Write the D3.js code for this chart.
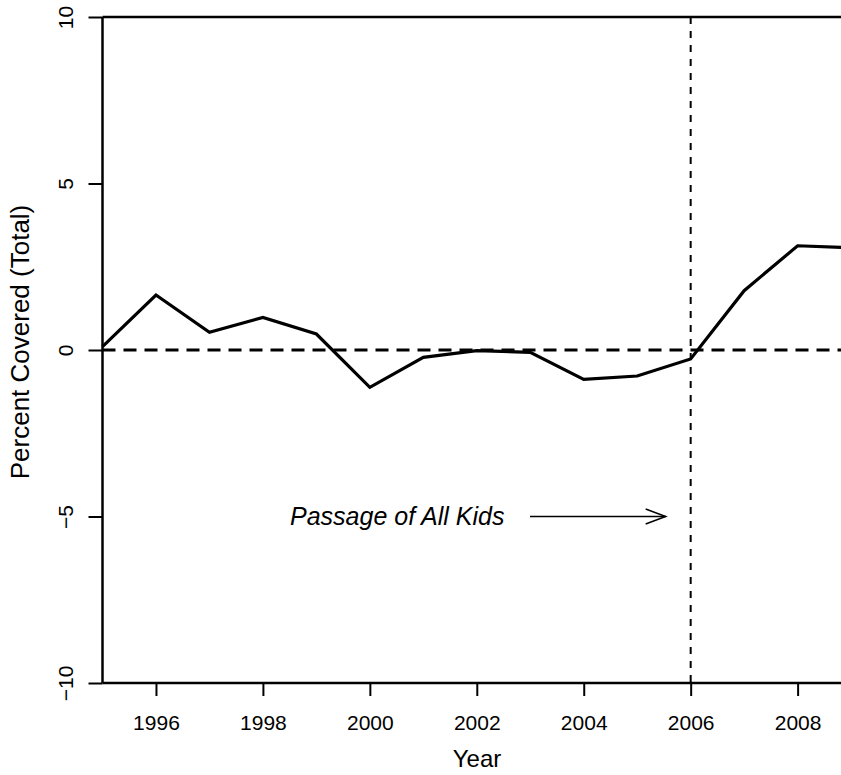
<!DOCTYPE html>
<html>
<head>
<meta charset="utf-8">
<script src="https://cdn.jsdelivr.net/npm/d3@7"></script>
<style>
  html, body { margin: 0; padding: 0; background: #fff; }
  svg { display: block; font-family: "Liberation Sans", Arial, sans-serif; }
</style>
</head>
<body>
<svg id="chart" width="841" height="775"></svg>
<script>
// Yearly change in percent covered (total)
const years = [1995, 1996, 1997, 1998, 1999, 2000, 2001, 2002, 2003, 2004, 2005, 2006, 2007, 2008, 2009];
const values = [0.1, 1.65, 0.53, 0.98, 0.48, -1.12, -0.22, -0.02, -0.07, -0.88, -0.78, -0.27, 1.78, 3.13, 3.07];
const xTicks = [1996, 1998, 2000, 2002, 2004, 2006, 2008];
const yTicks = [-10, -5, 0, 5, 10];
const policyYear = 2006;
const annotation = "Passage of All Kids";

const svg = d3.select("#chart");
const plotLeft = 102.5, plotTop = 17, plotBottom = 683;

const x = d3.scaleLinear().domain([1995, 2009]).range([plotLeft, plotLeft + 14 * 53.47]);
const y = d3.scaleLinear().domain([-10, 10]).range([plotBottom, plotTop]);

// frame: top and bottom rules plus the left axis line
svg.append("line").attr("x1", plotLeft).attr("x2", 841).attr("y1", plotTop).attr("y2", plotTop)
  .attr("stroke", "#000").attr("stroke-width", 2.5);
svg.append("line").attr("x1", plotLeft).attr("x2", 841).attr("y1", plotBottom).attr("y2", plotBottom)
  .attr("stroke", "#000").attr("stroke-width", 2.5);
svg.append("line").attr("x1", plotLeft).attr("x2", plotLeft).attr("y1", plotTop).attr("y2", plotBottom)
  .attr("stroke", "#000").attr("stroke-width", 2.5);

// y axis
const yAxis = d3.axisLeft(y).tickValues(yTicks).tickSize(14).tickPadding(0)
  .tickFormat(d => d < 0 ? "\u2212" + Math.abs(d) : d);
const gy = svg.append("g").attr("transform", `translate(${plotLeft},0)`).call(yAxis);
gy.select(".domain").remove();
gy.selectAll(".tick line").attr("stroke", "#000").attr("stroke-width", 2);
gy.selectAll(".tick text")
  .attr("x", 0).attr("y", 0).attr("dy", 0)
  .attr("text-anchor", "middle")
  .attr("transform", "translate(-30,0) rotate(-90)")
  .attr("font-size", 21).attr("fill", "#000")
  .style("font-family", "'Liberation Sans', Arial, sans-serif");

// x axis
const xAxis = d3.axisBottom(x).tickValues(xTicks).tickSize(13).tickPadding(0)
  .tickFormat(d3.format("d"));
const gx = svg.append("g").attr("transform", `translate(0,${plotBottom})`).call(xAxis);
gx.select(".domain").remove();
gx.selectAll(".tick line").attr("stroke", "#000").attr("stroke-width", 2);
gx.selectAll(".tick text")
  .attr("y", 47).attr("dy", 0)
  .attr("font-size", 21).attr("fill", "#000")
  .style("font-family", "'Liberation Sans', Arial, sans-serif");

// reference lines
svg.append("line").attr("x1", plotLeft).attr("x2", 841).attr("y1", y(0)).attr("y2", y(0))
  .attr("stroke", "#000").attr("stroke-width", 3).attr("stroke-dasharray", "13,8");
svg.append("line").attr("x1", x(policyYear)).attr("x2", x(policyYear)).attr("y1", plotTop).attr("y2", plotBottom)
  .attr("stroke", "#000").attr("stroke-width", 2).attr("stroke-dasharray", "7,7");

// series
const line = d3.line().x((d, i) => x(years[i])).y(d => y(d));
svg.append("path").datum(values).attr("d", line)
  .attr("fill", "none").attr("stroke", "#000").attr("stroke-width", 3.2)
  .attr("stroke-linejoin", "miter");

// annotation with arrow pointing at the policy year
const annY = y(-5);
svg.append("text").attr("x", 290).attr("y", annY + 8)
  .attr("font-size", 25).attr("font-style", "italic").attr("fill", "#000")
  .text(annotation);
const ax1 = 530, ax2 = x(policyYear) - 25;
svg.append("line").attr("x1", ax1).attr("x2", ax2).attr("y1", annY).attr("y2", annY)
  .attr("stroke", "#000").attr("stroke-width", 1.5);
svg.append("path")
  .attr("d", `M${ax2 - 20},${annY - 7.5}L${ax2},${annY}L${ax2 - 20},${annY + 7.5}`)
  .attr("fill", "none").attr("stroke", "#000").attr("stroke-width", 1.5);

// axis titles
svg.append("text").attr("x", 477).attr("y", 767).attr("text-anchor", "middle")
  .attr("font-size", 24).attr("fill", "#000").text("Year");
svg.append("text").attr("transform", "translate(29,342) rotate(-90)").attr("text-anchor", "middle")
  .attr("font-size", 26).attr("fill", "#000").text("Percent Covered (Total)");
</script>
</body>
</html>
